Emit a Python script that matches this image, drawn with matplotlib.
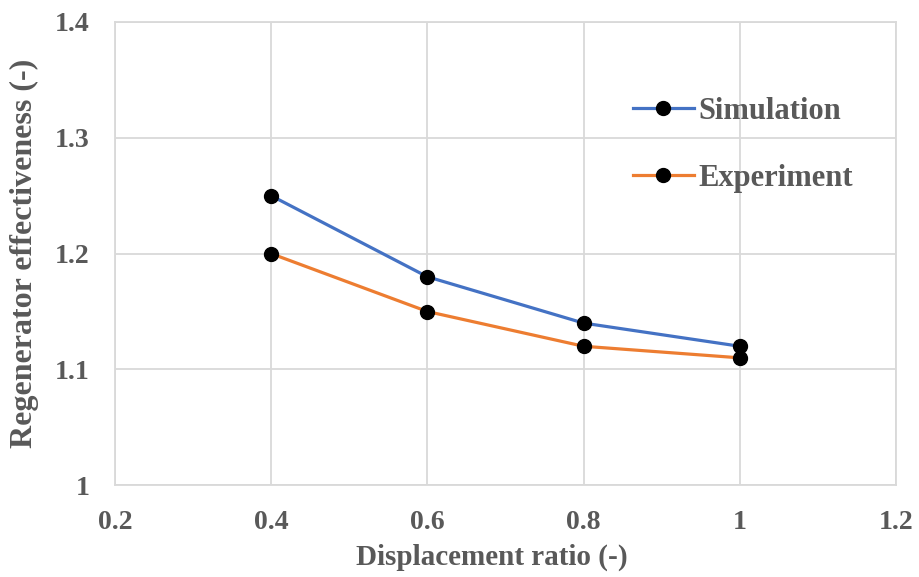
import matplotlib
matplotlib.use('Agg')
import matplotlib.pyplot as plt

plt.rcParams['font.family'] = ['Liberation Serif', 'DejaVu Serif']
plt.rcParams['font.weight'] = 'bold'
plt.rcParams['axes.labelweight'] = 'bold'

ratio = [0.4, 0.6, 0.8, 1.0]
simulation = [1.25, 1.18, 1.14, 1.12]
experiment = [1.20, 1.15, 1.12, 1.11]

xticks = [0.2, 0.4, 0.6, 0.8, 1.0, 1.2]
xtick_labels = ['0.2', '0.4', '0.6', '0.8', '1', '1.2']
yticks = [1.0, 1.1, 1.2, 1.3, 1.4]
ytick_labels = ['1', '1.1', '1.2', '1.3', '1.4']

text_color = '#595959'
grid_color = '#d9d9d9'

fig = plt.figure(figsize=(9.19, 5.77), dpi=100)
ax = fig.add_axes([0.125, 0.159, 0.85, 0.803])

ax.plot(ratio, simulation, color='#4472c4', lw=2.3, marker='o', ms=10,
        mfc='black', mec='black', label='Simulation', zorder=3)
ax.plot(ratio, experiment, color='#ed7d31', lw=2.3, marker='o', ms=10,
        mfc='black', mec='black', label='Experiment', zorder=3)

ax.set_xlim(0.2, 1.2)
ax.set_ylim(1.0, 1.4)
ax.set_xticks(xticks)
ax.set_xticklabels(xtick_labels)
ax.set_yticks(yticks)
ax.set_yticklabels(ytick_labels)
ax.tick_params(length=0, labelsize=20, labelcolor=text_color)
ax.tick_params(axis='x', pad=18)
ax.tick_params(axis='y', pad=18)
ax.grid(True, color=grid_color, lw=1.3)
ax.set_axisbelow(True)
for s in ax.spines.values():
    s.set_color(grid_color)
    s.set_linewidth(1.3)

ax.set_xlabel('Displacement ratio (-)', fontsize=21, color=text_color)
ax.xaxis.set_label_coords(0.482, -0.125)
ax.set_ylabel('Regenerator effectiveness (-)', fontsize=23, color=text_color)
ax.yaxis.set_label_coords(-0.097, 0.5)

leg = ax.legend(loc='upper left', bbox_to_anchor=(0.628, 0.898), frameon=False,
                fontsize=22, labelspacing=1.25, handlelength=2.0, handletextpad=0.15)
for t in leg.get_texts():
    t.set_color(text_color)

fig.savefig('out.png', dpi=100)
